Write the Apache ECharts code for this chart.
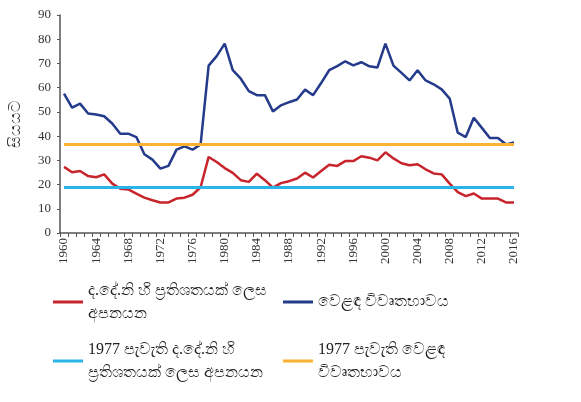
<!DOCTYPE html>
<html>
<head>
<meta charset="utf-8">
<script src="https://cdn.jsdelivr.net/npm/echarts@6/dist/echarts.min.js"></script>
<style>
    html, body { margin: 0; padding: 0; background: #ffffff; }
    #chart1 { width: 581px; height: 402px; }
</style>
</head>
<body>
<div id="chart1"></div>
<script>
// අවුරුදු
var years = ['1960', '1961', '1962', '1963', '1964', '1965', '1966', '1967', '1968', '1969',
    '1970', '1971', '1972', '1973', '1974', '1975', '1976', '1977', '1978', '1979',
    '1980', '1981', '1982', '1983', '1984', '1985', '1986', '1987', '1988', '1989',
    '1990', '1991', '1992', '1993', '1994', '1995', '1996', '1997', '1998', '1999',
    '2000', '2001', '2002', '2003', '2004', '2005', '2006', '2007', '2008', '2009',
    '2010', '2011', '2012', '2013', '2014', '2015', '2016'];

// ද.දේ.නි හි ප්‍රතිශතයක් ලෙස අපනයන
var exportsGdp = [27.3, 25.1, 25.6, 23.5, 23.0, 24.2, 20.4, 18.3, 18.0, 16.3,
    14.6, 13.5, 12.6, 12.6, 14.2, 14.6, 15.8, 18.9, 31.4, 29.3,
    26.8, 24.8, 21.8, 21.1, 24.5, 21.8, 18.7, 20.6, 21.4, 22.5,
    24.9, 22.9, 25.6, 28.2, 27.7, 29.7, 29.7, 31.7, 31.1, 30.0,
    33.3, 30.8, 28.8, 28.0, 28.4, 26.3, 24.6, 24.2, 20.4, 16.9,
    15.2, 16.3, 14.2, 14.2, 14.2, 12.6, 12.6];

// වෙළඳ විවෘතභාවය
var tradeOpenness = [57.5, 51.8, 53.4, 49.3, 48.9, 48.2, 45.2, 41.0, 41.0, 39.6,
    32.5, 30.3, 26.6, 27.7, 34.4, 35.8, 34.4, 36.6, 69.1, 73.0,
    78.2, 67.2, 63.7, 58.6, 56.9, 56.9, 50.2, 52.7, 54.0, 55.1,
    59.2, 56.9, 61.9, 67.2, 68.9, 70.9, 69.2, 70.5, 68.8, 68.3,
    78.2, 69.1, 66.1, 63.0, 67.2, 63.0, 61.4, 59.3, 55.5, 41.4,
    39.6, 47.6, 43.4, 39.2, 39.2, 36.6, 37.4];

// 1977 මට්ටම්
var exportsGdp1977 = 18.9;
var tradeOpenness1977 = 36.6;

var seriesNames = [
    'ද.දේ.නි හි ප්‍රතිශතයක් ලෙස අපනයන',
    'වෙළඳ විවෘතභාවය',
    '1977 පැවැති ද.දේ.නි හි ප්‍රතිශතයක් ලෙස අපනයන',
    '1977 පැවැති වෙළඳ විවෘතභාවය'
];
var legendLabels = [
    'ද.දේ.නි හි ප්‍රතිශතයක් ලෙස\nඅපනයන',
    'වෙළඳ විවෘතභාවය',
    '1977 පැවැති ද.දේ.නි හි\nප්‍රතිශතයක් ලෙස අපනයන',
    '1977 පැවැති වෙළඳ\nවිවෘතභාවය'
];
var colors = ['#c8242b', '#243a8a', '#2ab5e8', '#f9b233'];

var serifFont = '"Liberation Serif", "DejaVu Serif", serif';
var LH = 23;

function makeLegend(i, left, top) {
    var lines = legendLabels[i].split('\n').length;
    return {
        data: [seriesNames[i]],
        left: left,
        top: top,
        padding: 0,
        icon: 'rect',
        itemWidth: 30,
        itemHeight: 3,
        selectedMode: false,
        formatter: function () { return legendLabels[i]; },
        textStyle: {
            fontFamily: serifFont,
            fontSize: 16,
            color: '#222',
            lineHeight: LH,
            padding: [LH * (lines - 1), 0, 0, 0]
        }
    };
}

function refLine(name, value, color) {
    return {
        name: name,
        type: 'line',
        data: [],
        itemStyle: { color: color },
        lineStyle: { color: color, width: 3 },
        markLine: {
            silent: true,
            symbol: ['none', 'none'],
            label: { show: false },
            lineStyle: { color: color, width: 3, type: 'solid' },
            data: [[
                { coord: [years[0], value] },
                { coord: [years[years.length - 1], value] }
            ]]
        }
    };
}

var chart1 = echarts.init(document.getElementById('chart1'));
var option1 = {
    animation: false,
    color: colors,
    grid: { left: 58, top: 15, width: 460, height: 218 },
    legend: [
        makeLegend(0, 53, 302 - 34.5),
        makeLegend(1, 283, 302 - 11.5),
        makeLegend(2, 53, 361 - 34.5),
        makeLegend(3, 283, 361 - 34.5)
    ],
    xAxis: {
        type: 'category',
        data: years,
        boundaryGap: true,
        axisLine: { lineStyle: { color: '#555', width: 1.5 } },
        axisTick: { show: true, interval: 0, length: 4, lineStyle: { color: '#555' } },
        axisLabel: {
            interval: 3,
            rotate: 90,
            margin: 5,
            fontFamily: serifFont,
            fontSize: 13,
            color: '#333'
        }
    },
    yAxis: {
        type: 'value',
        min: 0,
        max: 90,
        interval: 10,
        name: 'සියයට',
        nameLocation: 'middle',
        nameRotate: 90,
        nameGap: 36,
        nameTextStyle: { fontFamily: serifFont, fontSize: 16, color: '#333' },
        axisLine: { show: true, lineStyle: { color: '#555', width: 1.5 } },
        axisTick: { show: true, length: 3, lineStyle: { color: '#555' } },
        splitLine: { show: false },
        axisLabel: {
            margin: 9,
            fontFamily: serifFont,
            fontSize: 13,
            color: '#333'
        }
    },
    series: [
        {
            name: seriesNames[0],
            type: 'line',
            data: exportsGdp,
            showSymbol: false,
            lineStyle: { width: 2.5, color: colors[0] },
            itemStyle: { color: colors[0] }
        },
        {
            name: seriesNames[1],
            type: 'line',
            data: tradeOpenness,
            showSymbol: false,
            lineStyle: { width: 2.5, color: colors[1] },
            itemStyle: { color: colors[1] }
        },
        refLine(seriesNames[2], exportsGdp1977, colors[2]),
        refLine(seriesNames[3], tradeOpenness1977, colors[3])
    ]
};
chart1.setOption(option1);
</script>
</body>
</html>
